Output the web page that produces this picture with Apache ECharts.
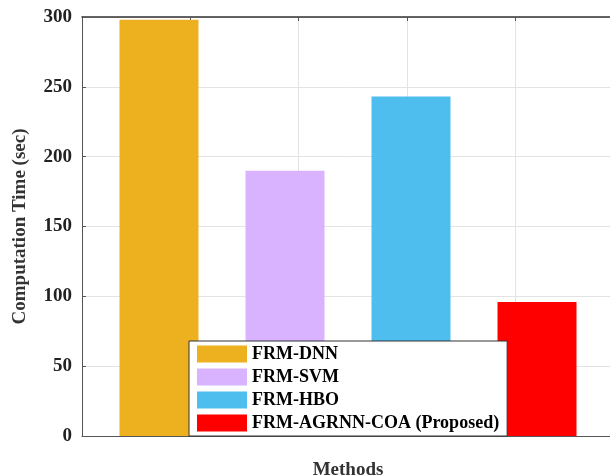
<!DOCTYPE html>
<html>
<head>
<meta charset="utf-8">
<script src="https://cdn.jsdelivr.net/npm/echarts@6/dist/echarts.min.js"></script>
<style>
  html, body { margin: 0; padding: 0; background: #fff; }
  #chart { width: 610px; height: 476px; }
</style>
</head>
<body>
<div id="chart"></div>
<script>
// Computation time per method
const methods = ['FRM-DNN', 'FRM-SVM', 'FRM-HBO', 'FRM-AGRNN-COA (Proposed)'];
const times = [298, 190, 243, 96];
const colors = ['#EDB120', '#D9B3FF', '#4DBEEE', '#FF0000'];
const yTicks = [0, 50, 100, 150, 200, 250, 300];

document.addEventListener('DOMContentLoaded', function() {
    const chart = echarts.init(document.getElementById('chart'));
    const serif = 'Liberation Serif';

    const series = methods.map((name, i) => ({
        name: name,
        type: 'bar',
        xAxisIndex: 0,
        data: [[i + 1, times[i]]],
        barWidth: 79,
        barGap: '-100%',
        itemStyle: { color: colors[i] }
    }));

    chart.setOption({
        animation: false,
        grid: { left: 82, top: 17, bottom: 40, right: -4, outerBoundsMode: 'none', containLabel: false },
        legend: {
            orient: 'vertical',
            left: 189,
            top: 341,
            data: methods,
            icon: 'rect',
            itemWidth: 50,
            itemHeight: 17,
            itemGap: 5,
            padding: [4, 8, 4, 8],
            backgroundColor: '#fff',
            borderColor: '#333',
            borderWidth: 1,
            textStyle: { fontFamily: serif, fontWeight: 'bold', fontSize: 18, color: '#000' }
        },
        xAxis: [{
            type: 'value',
            min: 0.389,
            max: 4.611,
            name: 'Methods',
            nameLocation: 'middle',
            nameGap: 25,
            nameTextStyle: { fontFamily: serif, fontWeight: 'bold', fontSize: 19, color: '#333' },
            axisLine: { show: true, lineStyle: { color: '#555', width: 1 } },
            axisTick: { show: false },
            axisLabel: { show: false },
            splitLine: { show: false }
        }, {
            type: 'value',
            position: 'top',
            min: 0,
            max: 4.91,
            interval: 1,
            axisLine: { show: true, onZero: false, lineStyle: { color: '#333', width: 1.5 } },
            axisTick: { show: true, inside: true, length: 4, lineStyle: { color: '#555' } },
            axisLabel: { show: false },
            splitLine: { show: true, lineStyle: { color: '#e3e3e3', width: 1 } }
        }],
        yAxis: {
            type: 'value',
            min: yTicks[0],
            max: yTicks[yTicks.length - 1],
            interval: 50,
            name: 'Computation Time (sec)',
            nameLocation: 'middle',
            nameGap: 52,
            nameTextStyle: { fontFamily: serif, fontWeight: 'bold', fontSize: 19, color: '#333' },
            axisLine: { show: true, lineStyle: { color: '#555', width: 1 } },
            axisTick: { show: true, inside: true, length: 4, lineStyle: { color: '#555' } },
            axisLabel: { fontFamily: serif, fontWeight: 'bold', fontSize: 19, color: '#222', margin: 10 },
            splitLine: { show: true, lineStyle: { color: '#e3e3e3', width: 1 } }
        },
        series: series
    });
});
</script>
</body>
</html>
